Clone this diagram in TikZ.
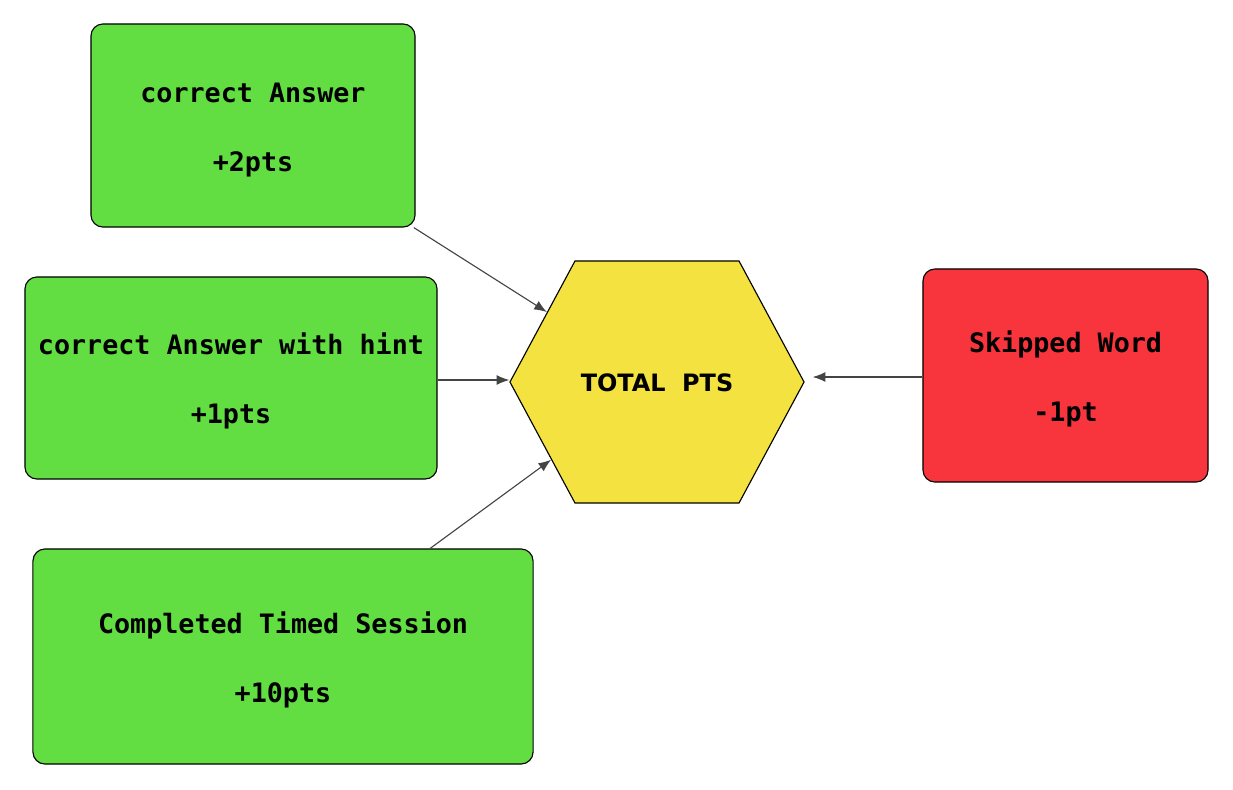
\documentclass[tikz,border=0pt]{standalone}
\usepackage{fontspec}
\setmonofont{DejaVu Sans Mono}
\newfontfamily\hexfont{DejaVu Sans}
\usetikzlibrary{shapes.symbols,arrows.meta}
\definecolor{gainfill}{HTML}{62DE43}
\definecolor{lossfill}{HTML}{F8343D}
\definecolor{totalfill}{HTML}{F3E23F}
\definecolor{linkgray}{HTML}{444444}
\newcommand{\ptstext}[2]{\rule{0pt}{20pt}#1\\[26pt]#2}
\tikzset{
ptsbox/.style={draw=black,line width=0.8pt,rounded corners=0.3cm,align=center,inner sep=0pt,font=\fontsize{19}{23}\selectfont\ttfamily\bfseries},
gainbox/.style={ptsbox,fill=gainfill},
lossbox/.style={ptsbox,fill=lossfill},
totalhex/.style={shape=signal,signal to=west and east,signal pointer angle=123.5,draw=black,line width=0.8pt,fill=totalfill,inner sep=0pt,minimum width=7.35cm,minimum height=6.05cm,font=\fontsize{17}{20}\selectfont\hexfont\bfseries},
link/.style={draw=linkgray,line width=0.8pt,-{Latex[length=9pt,width=7pt]}}
}
\begin{document}
\begin{tikzpicture}[x=0.025cm,y=-0.025cm]
\useasboundingbox (0,0) rectangle (1233,789);
\node[gainbox,minimum width=8.1cm,minimum height=5.075cm] (ca) at (253,125.5){\ptstext{correct Answer}{+2pts}};
\node[gainbox,minimum width=10.3cm,minimum height=5.05cm] (hint) at (231,378){\ptstext{correct Answer with hint}{+1pts}};
\node[gainbox,minimum width=12.5cm,minimum height=5.375cm] (timed) at (283,656.5){\ptstext{Completed Timed Session}{+10pts}};
\node[lossbox,minimum width=7.125cm,minimum height=5.325cm] (skip) at (1065.5,375.5){\ptstext{Skipped Word}{-1pt}};
\node[totalhex] (total) at (657,382){\rule{0pt}{14pt}TOTAL\ \ PTS};
\draw[link] (ca) -- (total);\draw[link] (hint.east |- 0,380) -- (total.west |- 0,380);
\draw[link] (timed) -- (total);
\draw[link,shorten >=0.2cm] (skip.west |- 0,377) -- (total.east |- 0,377);
\end{tikzpicture}
\end{document}
